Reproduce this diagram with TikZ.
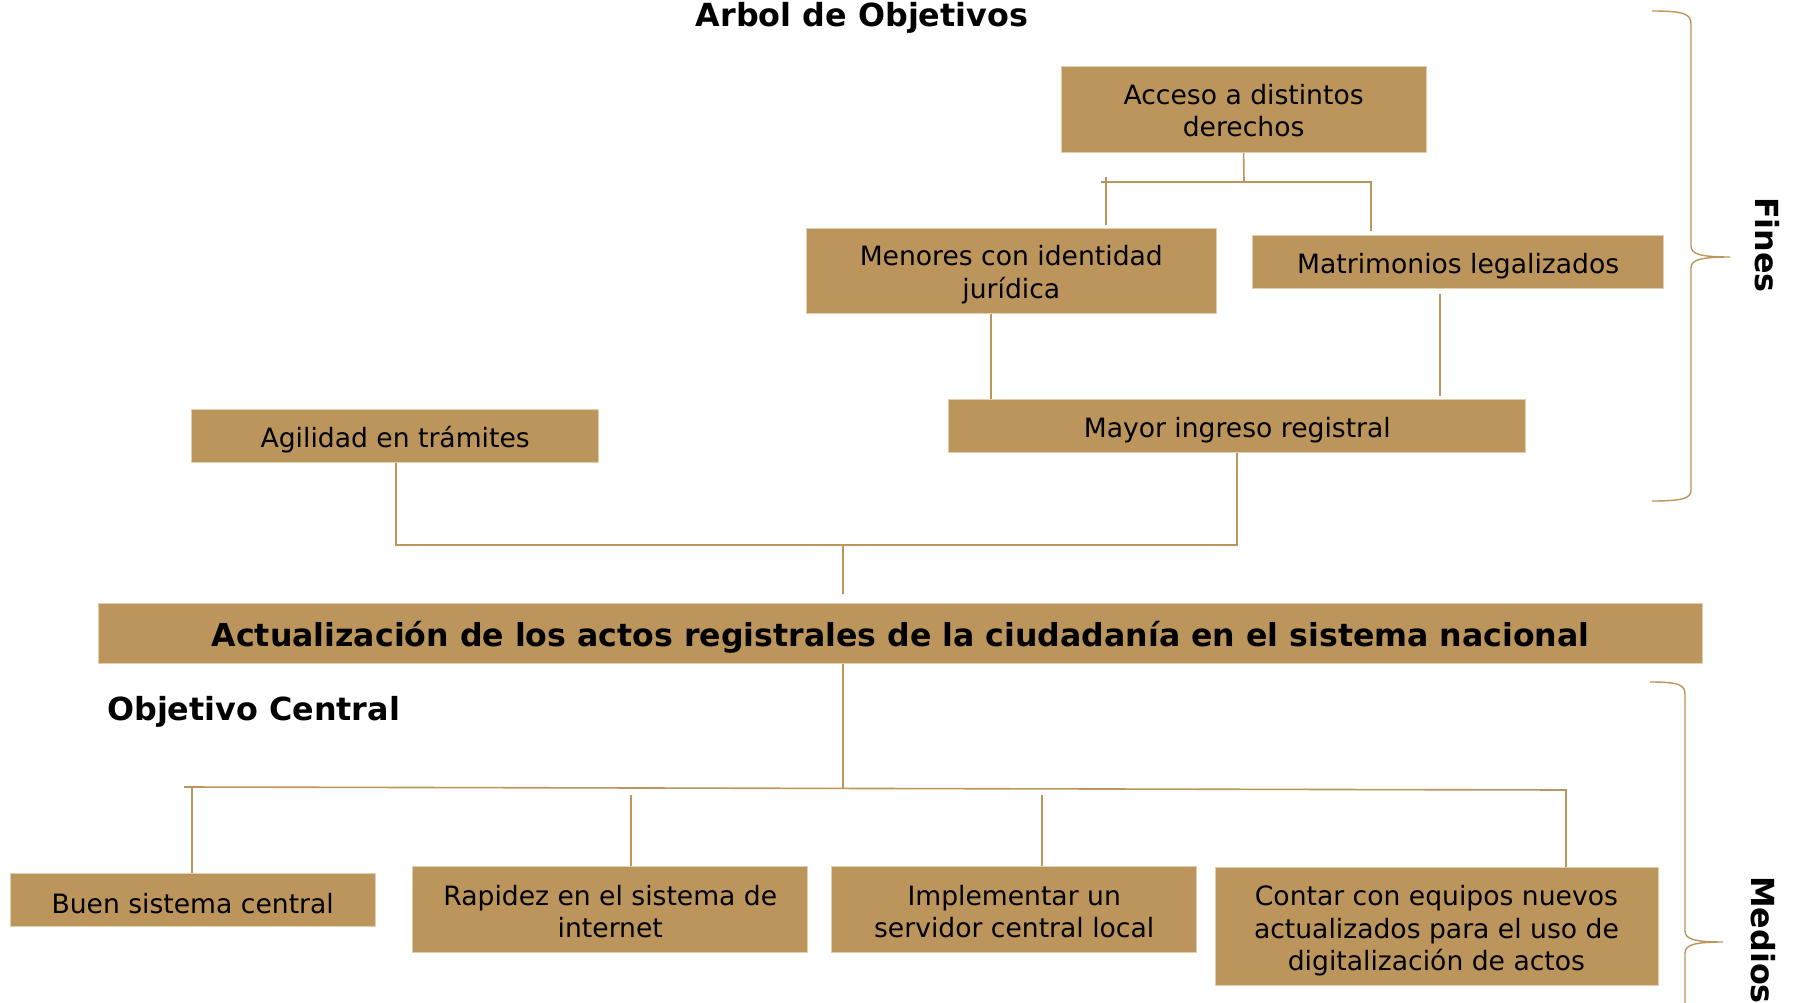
\documentclass[tikz,border=0pt]{standalone}
\usepackage{fontspec}
\setmainfont{DejaVu Sans}
\definecolor{tan}{HTML}{BC955C}
\definecolor{tanedge}{HTML}{E3CFAE}
\begin{document}
\begin{tikzpicture}[x=1pt,y=-1pt,
  box/.style={fill=tan,draw=tanedge,line width=0.8pt,inner sep=0pt,align=center,
    font=\fontsize{26.6}{32.5}\selectfont,text=black,
    execute at begin node={\rule{0pt}{28.5pt}}},
  conn/.style={draw=tan,line width=1.6pt},
  brace/.style={draw=tan,line width=1.4pt},
  heading/.style={font=\fontsize{31.8}{36}\selectfont\bfseries,text=black,inner sep=0pt}]
\useasboundingbox (0,0) rectangle (1799,1003);
% title
\node[heading,anchor=base] (title) at (862,27) {Arbol de Objetivos};
% boxes
\node[box,minimum width=365pt,minimum height=86pt] (acceso) at (1243.6,109.5) {\rule{0pt}{22.5pt}Acceso a distintos\\derechos};
\node[box,minimum width=410pt,minimum height=85pt] (menores) at (1011.3,270.7) {\rule{0pt}{28.5pt}Menores con identidad\\jurídica};
\node[box,minimum width=411pt,minimum height=53pt] (matri) at (1458.2,261.6) {Matrimonios legalizados};
\node[box,minimum width=577pt,minimum height=53pt] (mayor) at (1237.3,425.6) {Mayor ingreso registral};
\node[box,minimum width=407pt,minimum height=53pt] (agil) at (395.2,436) {Agilidad en trámites};
\node[box,minimum width=1604pt,minimum height=60pt,font=\fontsize{31.6}{36}\selectfont\bfseries,
  execute at begin node={\rule{0pt}{33pt}}] (central) at (900.6,633.3) {Actualización de los actos registrales de la ciudadanía en el sistema nacional};
\node[heading,anchor=base west] (objc) at (107,720) {Objetivo Central};
\node[box,minimum width=365pt,minimum height=53pt] (buen) at (192.7,899.5) {Buen sistema central};
\node[box,minimum width=395pt,minimum height=86pt] (rapidez) at (610.3,909.2) {\rule{0pt}{25pt}Rapidez en el sistema de\\internet};
\node[box,minimum width=365pt,minimum height=86pt] (implem) at (1014.2,909.2) {\rule{0pt}{25pt}Implementar un\\servidor central local};
\node[box,minimum width=443pt,minimum height=118pt] (contar) at (1436.4,926.4) {\rule{0pt}{29.5pt}Contar con equipos nuevos\\actualizados para el uso de\\digitalización de actos};
% upper connectors
\coordinate (jA) at (1244,182);
\coordinate (jAl) at (1101,182);
\coordinate (jAr) at (1371,182);
\coordinate (tMen) at (1106,177);
\coordinate (bMen) at (1106,225);
\coordinate (bMat) at (1371,231);
\draw[conn] (acceso.south) -- (jA);
\draw[conn] (jAl) -- (jAr) -- (bMat);
\draw[conn] (tMen) -- (bMen);
\coordinate (mMen) at (991,399);
\draw[conn] (menores.south -| mMen) -- (mMen);
\coordinate (mMatT) at (1440,294);
\coordinate (mMatB) at (1440,396);
\draw[conn] (mMatT) -- (mMatB);
\coordinate (jL) at (396,545);
\coordinate (jR) at (1237,545);
\draw[conn] (agil.south -| jL) -- (jL) -- (jR) -- (mayor.south -| jR);
\coordinate (jM) at (843,545);
\coordinate (jMb) at (843,594);
\draw[conn] (jM) -- (jMb);
% lower connectors
\coordinate (jC) at (843,788.5);
\coordinate (hL) at (184,787);
\coordinate (hR) at (1566,790);
\draw[conn] (central.south -| jC) -- (jC);
\draw[conn] (hL) -- (hR) -- (contar.north -| hR);
\coordinate (hB) at (192,787.2);
\draw[conn] (hB) -- (buen.north -| hB);
\coordinate (tRap) at (631,795);
\draw[conn] (tRap) -- (rapidez.north -| tRap);
\coordinate (tImp) at (1042,795);
\draw[conn] (tImp) -- (implem.north -| tImp);
% braces
\draw[brace] (1652,11) .. controls (1684,11) and (1691,14) .. (1691,24)
  -- (1691,246) .. controls (1691,254) and (1700,257) .. (1730,257)
  .. controls (1700,257) and (1691,260) .. (1691,268)
  -- (1691,490) .. controls (1691,498) and (1684,501) .. (1652,501);
\draw[brace] (1650,682) .. controls (1680,682) and (1685,685) .. (1685,695)
  -- (1685,931) .. controls (1685,939) and (1694,942) .. (1723,942)
  .. controls (1694,942) and (1685,945) .. (1685,953) -- (1685,1003);
\node[heading,rotate=-90] (fines) at (1767,245) {Fines};
\node[heading,rotate=-90] (medios) at (1763,940) {Medios};
\end{tikzpicture}
\end{document}
